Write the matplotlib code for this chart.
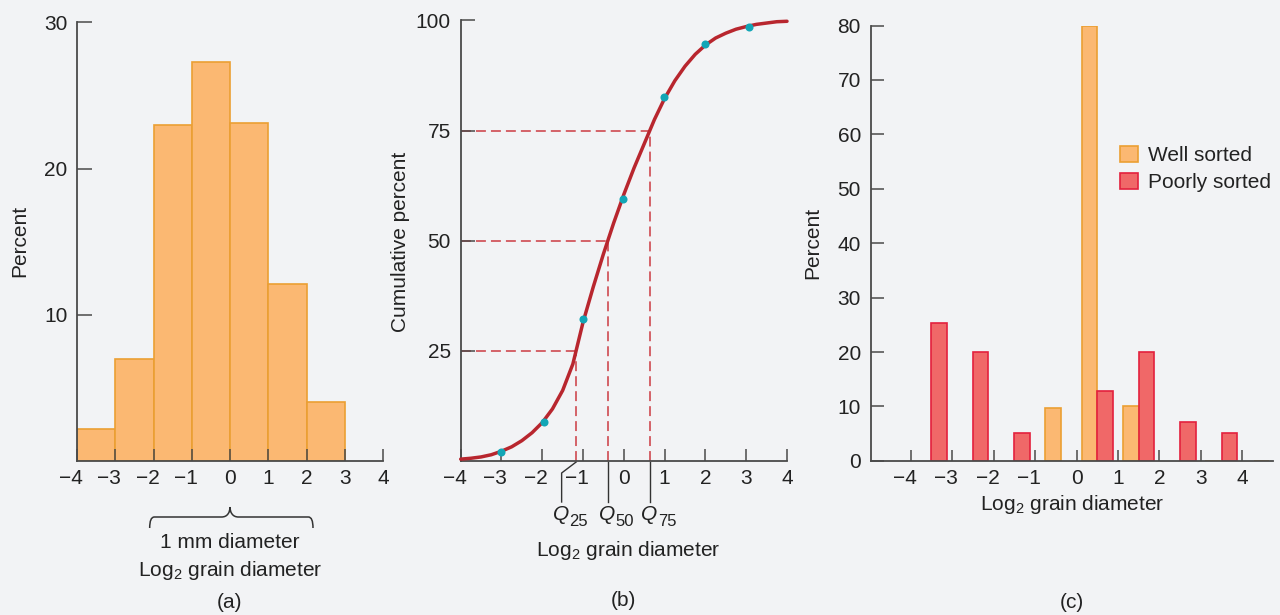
import matplotlib
matplotlib.use('Agg')
import matplotlib.pyplot as plt
import matplotlib.transforms as mtransforms
from matplotlib.path import Path
from matplotlib.patches import PathPatch, Patch

##########################################################
#                        Data                            #
##########################################################

# (a) grain size histogram, bins of 1 log2 unit
hist_left = [-4, -3, -2, -1, 0, 1, 2]
hist_percent = [2.2, 7.0, 23.0, 27.3, 23.1, 12.1, 4.0]

# (b) cumulative curve
curve_x = [-4.0, -3.75, -3.5, -3.25, -3.0, -2.75, -2.5, -2.25, -2.0, -1.75, -1.5,
           -1.25, -1.0, -0.75, -0.5, -0.25, 0.0, 0.25, 0.5, 0.75, 1.0, 1.25,
           1.5, 1.75, 2.0, 2.25, 2.5, 2.75, 3.0, 3.25, 3.5, 3.75, 4.0]
curve_y = [0.4, 0.6, 0.9, 1.4, 2.2, 3.2, 4.6, 6.4, 8.7, 11.8, 16.0,
           22.0, 31.5, 39.5, 47.0, 54.0, 60.5, 66.5, 72.0, 77.5, 82.3, 86.3,
           89.6, 92.3, 94.4, 96.0, 97.1, 98.0, 98.6, 99.1, 99.4, 99.7, 99.8]
sample_x = [-3.0, -1.95, -1.0, -0.02, 0.99, 2.0, 3.08]
sample_y = [2.1, 8.9, 32.1, 59.5, 82.5, 94.7, 98.6]
quartile_pct = [25, 50, 75]
quartile_x = [-1.17, -0.40, 0.64]
quartile_names = ['25', '50', '75']

# (c) well vs poorly sorted
well_left = [-0.75, 0.125, 1.125, 3.1, 4.27]
well_pct = [9.8, 80, 10, 0, 0]
poor_left = [-3.5, -2.5, -1.5, 0.5, 1.5, 2.5, 3.5]
poor_pct = [25.4, 20.0, 5.2, 12.8, 20.0, 7.1, 5.1]

x_ticks = [-4, -3, -2, -1, 0, 1, 2, 3, 4]
x_labels = ['\u22124', '\u22123', '\u22122', '\u22121', '0', '1', '2', '3', '4']

##########################################################
#                        Style                           #
##########################################################

plt.rcParams['font.family'] = ['Liberation Sans', 'DejaVu Sans']
plt.rcParams['mathtext.fontset'] = 'custom'
plt.rcParams['mathtext.rm'] = 'Liberation Sans'
plt.rcParams['mathtext.it'] = 'Liberation Sans:italic'
plt.rcParams['mathtext.default'] = 'regular'

bg = '#f2f3f5'
axis_col = '#4a4a4a'
text_col = '#222222'
orange_fill = '#fbb872'
orange_edge = '#eb9f33'
red_fill = '#f06868'
red_edge = '#e3203d'
curve_col = '#b8262e'
dash_col = '#cc3a42'
dot_col = '#12a6b6'
fs = 15

W, H = 1280, 615
fig = plt.figure(figsize=(12.8, 6.15), dpi=100, facecolor=bg)


def fy(px):
    return 1 - px / H


def style_axes(ax, xlen, ylen):
    ax.set_facecolor(bg)
    for s in ['top', 'right']:
        ax.spines[s].set_visible(False)
    for s in ['left', 'bottom']:
        ax.spines[s].set_color(axis_col)
        ax.spines[s].set_linewidth(1.3)
    ax.tick_params(axis='x', direction='in', length=xlen, width=1.1, color=axis_col,
                   labelsize=fs, labelcolor=text_col, pad=5.5)
    ax.tick_params(axis='y', direction='in', length=ylen, width=1.1, color=axis_col,
                   labelsize=fs, labelcolor=text_col, pad=7)


def shift_minus_labels(ax):
    # keep the digit over the tick, the minus sign hangs to the left
    off = mtransforms.ScaledTranslation(5.8 / 100, 0, fig.dpi_scale_trans)
    for lab in ax.get_xticklabels():
        if lab.get_text().startswith('\u2212'):
            lab.set_horizontalalignment('right')
            lab.set_transform(lab.get_transform() + off)


##########################################################
#                    (a) histogram                       #
##########################################################

ax_a = fig.add_axes([77 / W, fy(460.9), 306 / W, 438.5 / H])
ax_a.bar(hist_left, hist_percent, width=1, align='edge', color=orange_fill,
         edgecolor=orange_edge, linewidth=1.2)
ax_a.set_xlim(-4, 4)
ax_a.set_ylim(0, 30)
ax_a.set_xticks(x_ticks, x_labels)
ax_a.set_yticks([10, 20, 30])
style_axes(ax_a, 8.6, 10.8)
fig.text(20 / W, fy(241), 'Percent', rotation=90, ha='center', va='center',
         fontsize=fs, color=text_col)

# brace under the axis (x in data, y in figure pixels)
bt = mtransforms.blended_transform_factory(ax_a.transData, fig.transFigure)
verts = [(-2.1, fy(528)), (-2.1, fy(517)), (-1.98, fy(517)),
         (-0.22, fy(517)),
         (-0.06, fy(517)), (0, fy(512)), (0, fy(507)),
         (0, fy(512)), (0.06, fy(517)), (0.22, fy(517)),
         (2.05, fy(517)),
         (2.17, fy(517)), (2.17, fy(528))]
codes = [Path.MOVETO, Path.CURVE3, Path.CURVE3,
         Path.LINETO,
         Path.CURVE4, Path.CURVE4, Path.CURVE4,
         Path.CURVE4, Path.CURVE4, Path.CURVE4,
         Path.LINETO,
         Path.CURVE3, Path.CURVE3]
ax_a.add_patch(PathPatch(Path(verts, codes), transform=bt, fill=False,
                         edgecolor='#333333', linewidth=1.1, clip_on=False))
fig.text(230 / W, fy(542), '1 mm diameter', ha='center', va='center',
         fontsize=fs, color=text_col)
fig.text(230 / W, fy(570), 'Log$_2$ grain diameter', ha='center', va='center',
         fontsize=fs, color=text_col)
fig.text(230 / W, fy(603), '(a)', ha='center', va='center', fontsize=fs, color=text_col)

##########################################################
#                (b) cumulative curve                    #
##########################################################

ax_b = fig.add_axes([460.7 / W, fy(460.9), 326.3 / W, 440.5 / H])
ax_b.set_xlim(-4, 4)
ax_b.set_ylim(0, 100)

# dashed quartile guides
for qx, qp in zip(quartile_x, quartile_pct):
    ax_b.plot([-4, qx], [qp, qp], color=dash_col, lw=1.1, ls=(0, (6.5, 3.3)), zorder=1)
    ax_b.plot([qx, qx], [0, qp], color=dash_col, lw=1.1, ls=(0, (6.5, 3.3)), zorder=1)

ax_b.plot(curve_x, curve_y, color=curve_col, lw=2.5, solid_joinstyle='round',
          solid_capstyle='round', zorder=3, clip_on=False)
ax_b.plot(sample_x, sample_y, 'o', color=dot_col, ms=5.8, mec='none', zorder=4,
          clip_on=False)

ax_b.set_xticks(x_ticks, x_labels)
ax_b.set_yticks([25, 50, 75, 100])
style_axes(ax_b, 8.6, 10)
fig.text(400.7 / W, fy(242), 'Cumulative percent', rotation=90, ha='center',
         va='center', fontsize=fs, color=text_col)

# leader lines and Q labels below the axis
qt = mtransforms.blended_transform_factory(ax_b.transData, fig.transFigure)
px_unit = 326.3 / 8
q25_foot = quartile_x[0] - 14.5 / px_unit
ax_b.plot([quartile_x[0], q25_foot, q25_foot], [fy(462), fy(473), fy(502)],
          color='#333333', lw=1, transform=qt, clip_on=False)
lead_x = [q25_foot, quartile_x[1], quartile_x[2]]
for i in (1, 2):
    ax_b.plot([quartile_x[i], quartile_x[i]], [fy(462), fy(502)], color='#333333',
              lw=1, transform=qt, clip_on=False)
for lx, name in zip(lead_x, quartile_names):
    ax_b.annotate('Q', xy=(lx, fy(520.5)), xycoords=qt, xytext=(-8.5 * 0.72, 0),
                  textcoords='offset points', ha='left', va='baseline',
                  fontsize=fs, style='italic', color=text_col, annotation_clip=False)
    ax_b.annotate(name, xy=(lx, fy(520.5)), xycoords=qt, xytext=(7.8 * 0.72, -5.5 * 0.72),
                  textcoords='offset points', ha='left', va='baseline',
                  fontsize=12, color=text_col, annotation_clip=False)

fig.text(628 / W, fy(551), 'Log$_2$ grain diameter', ha='center', va='center',
         fontsize=fs, color=text_col)
fig.text(623.5 / W, fy(600), '(b)', ha='center', va='center', fontsize=fs, color=text_col)

##########################################################
#              (c) well vs poorly sorted                 #
##########################################################

ax_c = fig.add_axes([870.7 / W, fy(460.9), 402.3 / W, 435.4 / H])
ax_c.bar(well_left, well_pct, width=0.375, align='edge', color=orange_fill,
         edgecolor=orange_edge, linewidth=1.2)
ax_c.bar(poor_left, poor_pct, width=0.375, align='edge', color=red_fill,
         edgecolor=red_edge, linewidth=1.2)
ax_c.set_xlim(-4.965, 4.74)
ax_c.set_ylim(0, 80)
ax_c.set_xticks(x_ticks, x_labels)
ax_c.set_yticks(range(0, 81, 10))
style_axes(ax_c, 8, 9.4)
fig.text(813 / W, fy(243), 'Percent', rotation=90, ha='center', va='center',
         fontsize=fs, color=text_col)
fig.text(1072 / W, fy(505), 'Log$_2$ grain diameter', ha='center', va='center',
         fontsize=fs, color=text_col)
fig.text(1071.7 / W, fy(602), '(c)', ha='center', va='center', fontsize=fs, color=text_col)

handles = [Patch(facecolor=orange_fill, edgecolor=orange_edge, linewidth=1.2),
           Patch(facecolor=red_fill, edgecolor=red_edge, linewidth=1.2)]
ax_c.legend(handles, ['Well sorted', 'Poorly sorted'], loc='upper left',
            bbox_to_anchor=(1120 / W, fy(146)), bbox_transform=fig.transFigure,
            frameon=False, fontsize=fs, handlelength=0.85, handleheight=0.78,
            handletextpad=0.5, labelspacing=0.38, borderpad=0, borderaxespad=0,
            labelcolor=text_col)

for ax in (ax_a, ax_b, ax_c):
    shift_minus_labels(ax)

plt.savefig('out.png', dpi=100, facecolor=bg)
